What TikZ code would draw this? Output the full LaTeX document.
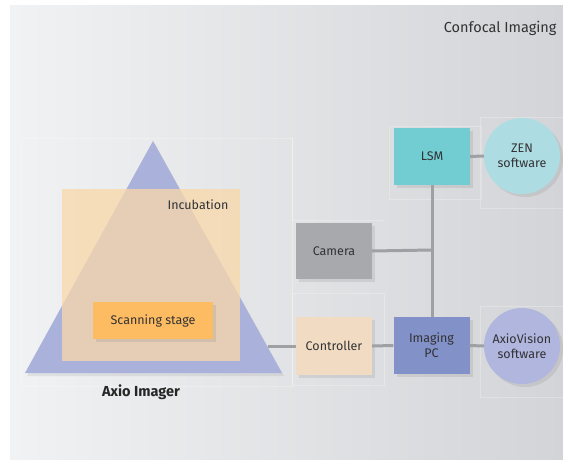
\documentclass[tikz,border=0pt]{standalone}
\usepackage{fontspec}
\setmainfont{Fira Sans}
\usetikzlibrary{shadows}

\definecolor{bgleft}{RGB}{241,242,244}
\definecolor{bgright}{RGB}{211,212,215}
\definecolor{lsmcol}{RGB}{114,205,211}
\definecolor{zencol}{RGB}{173,221,227}
\definecolor{camcol}{RGB}{168,169,173}
\definecolor{ctrlcol}{RGB}{241,220,195}
\definecolor{pccol}{RGB}{130,145,200}
\definecolor{axvcol}{RGB}{176,182,222}
\definecolor{tricol}{RGB}{170,178,220}
\definecolor{incubcol}{RGB}{249,216,169}
\definecolor{stagecol}{RGB}{253,187,98}
\definecolor{linkcol}{RGB}{159,160,164}
\definecolor{txtcol}{RGB}{50,50,52}

\tikzset{
  unit/.style={rectangle,minimum width=76pt,minimum height=57pt,inner sep=0pt,
    align=center,text=txtcol,font=\fontsize{12.5}{15}\selectfont,
    drop shadow={shadow xshift=3pt,shadow yshift=-3pt,opacity=0.18}},
  soft/.style={circle,minimum size=76pt,inner sep=0pt,align=center,text=txtcol,
    font=\fontsize{12.5}{15}\selectfont,
    drop shadow={shadow xshift=3pt,shadow yshift=-3pt,opacity=0.18}},
  link/.style={linkcol,line width=3pt},
  frame/.style={white,opacity=0.25,line width=0.5pt}
}

\begin{document}
\begin{tikzpicture}[x=1pt,y=-1pt]

\useasboundingbox (0,0) rectangle (563,460);
\shade[left color=bgleft,right color=bgright] (10,6) rectangle (563,459);

% faint panel frames
\draw[frame] (21,138) rectangle (292,386);
\draw[frame] (292,138) -- (292,220) -- (384,220);
\draw[frame] (292,293) rectangle (384,385);
\draw[frame] (389,126) rectangle (481,199);
\draw[frame] (563,117) -- (480,117) -- (480,208) -- (563,208);
\draw[frame] (563,306) -- (480,306) -- (480,397) -- (563,397);

\node[anchor=east,text=txtcol,font=\fontsize{14.5}{17}\selectfont] (title) at (560,28) {Confocal Imaging};

% microscope
\fill[tricol,drop shadow={shadow xshift=2pt,shadow yshift=-3pt,opacity=0.15}]
  (153,141) -- (282,373) -- (25,373) -- cycle;
\coordinate (trir) at (267.5,346);
\fill[incubcol,opacity=0.75] (62,189) rectangle (240,361);
\node[anchor=north east,text=txtcol,font=\fontsize{12.5}{15}\selectfont] (incub) at (232,196) {Incubation};
\node[unit,fill=stagecol,minimum width=120pt,minimum height=37pt] (stage) at (153,320.5) {Scanning stage};
\node[font=\bfseries\fontsize{14.5}{17}\selectfont,text=black!85] (imager) at (141,392) {Axio Imager};

% devices
\node[unit,fill=lsmcol] (lsm) at (432,156.5) {LSM};
\node[soft,fill=zencol] (zen) at (522,156) {ZEN\\software};
\node[unit,fill=camcol,minimum height=56pt] (camera) at (334,251) {Camera};
\node[unit,fill=ctrlcol,minimum height=58pt] (ctrl) at (334,346) {Controller};
\node[unit,fill=pccol] (pc) at (431.5,345.5) {Imaging\\PC};
\node[soft,fill=axvcol] (axv) at (522,346) {AxioVision\\software};

% The links
\coordinate (junc) at (432,250);
\draw[link] (lsm.east) -- (zen.west);
\draw[link] (lsm.south) -- (lsm.south |- pc.north);
\draw[link] (camera.east) -- (junc);
\draw[link] (trir) -- (ctrl.west);
\draw[link] (ctrl.east) -- (pc.west);
\draw[link] (pc.east) -- (axv.west);

\end{tikzpicture}
\end{document}
